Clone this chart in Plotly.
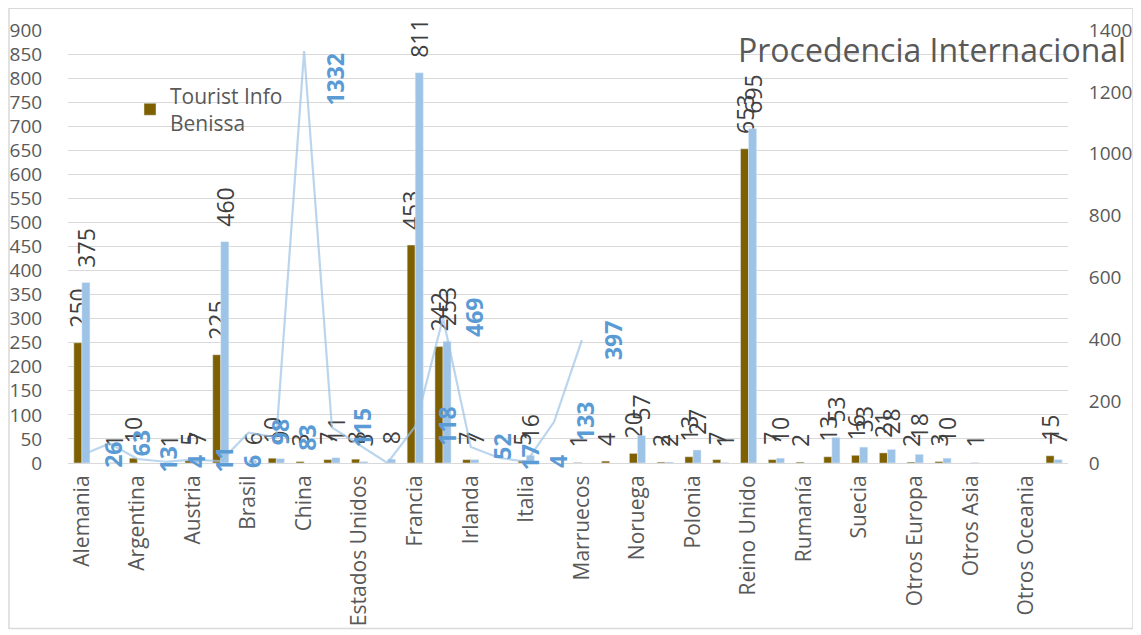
import plotly.graph_objects as go

categories = ["Alemania", "Andorra", "Argentina", "Australia", "Austria", "Bélgica",
              "Brasil", "Canadá", "China", "Dinamarca", "Estados Unidos", "Finlandia",
              "Francia", "Holanda", "Irlanda", "Israel", "Italia", "Japón",
              "Marruecos", "México", "Noruega", "Perú", "Polonia", "Portugal",
              "Reino Unido", "República Checa", "Rumanía", "Rusia", "Suecia", "Suiza",
              "Otros Europa", "Otros América", "Otros Asia", "Otros África",
              "Otros Oceania", "No consta"]

tick_labels = categories[::2]

tourist_info_benissa = [250, None, 10, None, 5, 225, None, 10, 3, 7, 8, None,
                        453, 242, 7, None, 5, None, 1, 4, 20, 2, 13, 7,
                        653, 7, 2, 13, 16, 21, 2, 3, None, None, None, 15]

serie_azul = [375, 1, None, 1, 7, 460, 6, 9, None, 11, 3, 8,
              811, 253, 7, None, 16, None, None, None, 57, 2, 27, 1,
              695, 10, None, 53, 33, 28, 18, 10, 1, None, None, 7]

serie_linea = [26, 63, 13, 4, 11, 6, 98, 83, 1332, 115, None, 0,
               118, 469, 52, 17, 4, 133, 397, None, None, None, None, None,
               None, None, None, None, None, None, None, None, None, None, None, None]

BROWN = "#7F6000"
LBLUE = "#9DC3E6"
LINE = "rgba(157,195,230,0.7)"
LABEL_BLUE = "#5B9BD5"
GRAY = "#595959"
FONT = "Open Sans"


def lbl(vals):
    return ["\u00a0\u00a0" + str(v) if v is not None else "" for v in vals]


fig = go.Figure()
fig.add_trace(go.Bar(x=categories, y=tourist_info_benissa, name="Tourist Info<br>Benissa",
                     marker_color=BROWN, text=lbl(tourist_info_benissa),
                     textposition="outside", textangle=-90, constraintext="none",
                     cliponaxis=False,
                     textfont=dict(family=FONT, size=23, color="#404040")))
fig.add_trace(go.Bar(x=categories, y=serie_azul, name="Serie 2", showlegend=False,
                     marker_color=LBLUE, text=lbl(serie_azul),
                     textposition="outside", textangle=-90, constraintext="none",
                     cliponaxis=False,
                     textfont=dict(family=FONT, size=23, color="#404040")))
fig.add_trace(go.Scatter(x=categories, y=serie_linea, yaxis="y2", mode="lines",
                         connectgaps=True, showlegend=False, name="Serie 3",
                         line=dict(color=LINE, width=2.2)))

for c, v in zip(categories, serie_linea):
    if v:
        fig.add_annotation(x=c, y=min(v, 1240), xref="x", yref="y2", text="<b>%d</b>" % v,
                           textangle=-90, showarrow=False, xshift=31,
                           font=dict(family=FONT, size=23, color=LABEL_BLUE))

fig.add_annotation(x=1.06, y=0.955, xref="paper", yref="paper", xanchor="right",
                   yanchor="middle", text="Procedencia Internacional", showarrow=False,
                   font=dict(family=FONT, size=32, color=GRAY))

fig.add_shape(type="rect", xref="paper", yref="paper", x0=-0.059, x1=1.065,
              y0=-0.382, y1=1.05, line=dict(color="#D9D9D9", width=1.5), layer="below")

fig.update_layout(
    width=1133, height=627,
    margin=dict(l=60, r=73, t=22, b=172, autoexpand=False),
    paper_bgcolor="white", plot_bgcolor="white",
    barmode="group", bargap=0.42, bargroupgap=0,
    font=dict(family=FONT, color=GRAY, size=21),
    legend=dict(x=0.062, y=0.895, xanchor="left", yanchor="top", tracegroupgap=0,
                bgcolor="rgba(0,0,0,0)", font=dict(family=FONT, size=21, color=GRAY)),
    xaxis=dict(type="category", tickmode="array", tickvals=tick_labels, ticktext=tick_labels,
               tickangle=-90, showgrid=False, showline=True, linecolor="#D9D9D9",
               linewidth=1, ticks="outside", ticklen=3, tickcolor="rgba(0,0,0,0)",
               automargin=False,
               tickfont=dict(family=FONT, size=21, color=GRAY)),
    yaxis=dict(range=[0, 900], dtick=50, showgrid=True, gridcolor="#D9D9D9",
               zeroline=False, ticks="outside", ticklen=21, tickcolor="rgba(0,0,0,0)",
               automargin=False,
               tickfont=dict(family=FONT, size=19, color=GRAY)),
    yaxis2=dict(range=[0, 1400], dtick=200, overlaying="y", side="right",
                showgrid=False, zeroline=False, ticks="outside", ticklen=16,
                tickcolor="rgba(0,0,0,0)", automargin=False,
                tickfont=dict(family=FONT, size=19, color=GRAY)),
)

fig.write_html("out.html")
